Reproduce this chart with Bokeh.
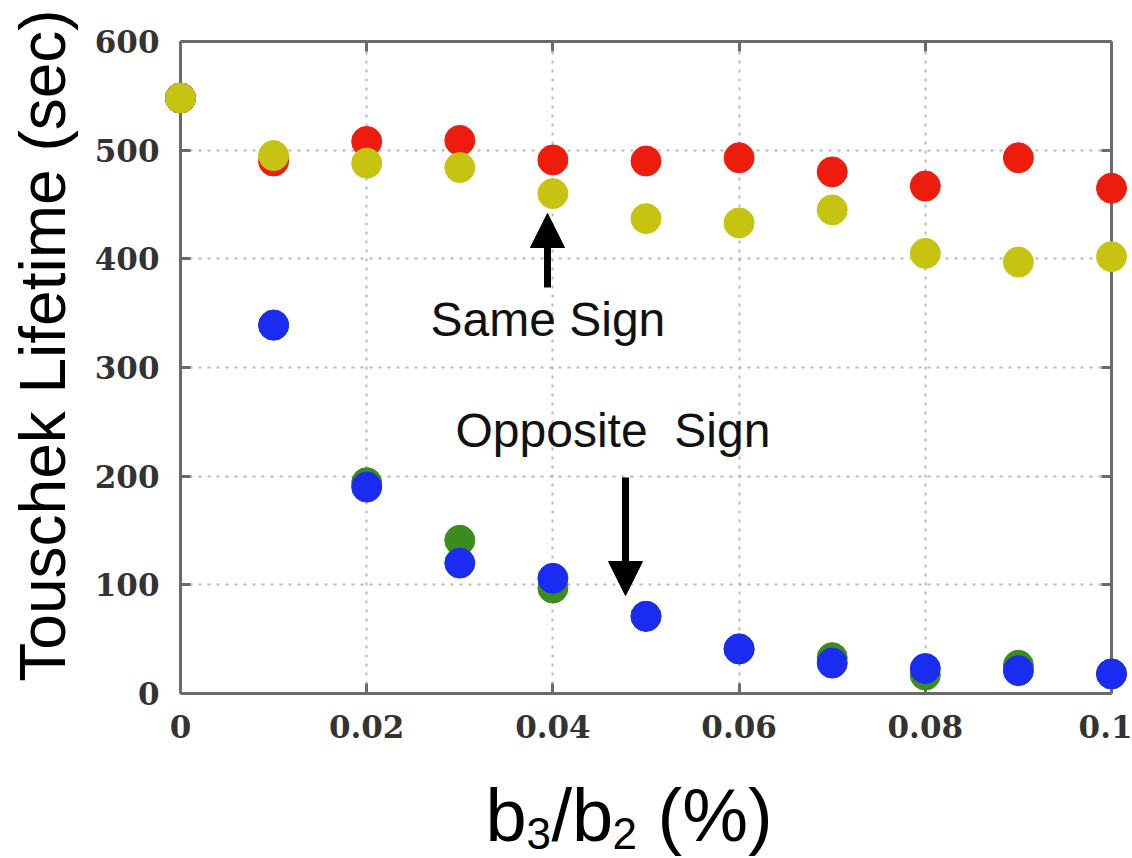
import math
from bokeh.plotting import figure
from bokeh.models import (Arrow, NormalHead, LinearAxis, Range1d, FixedTicker)
from bokeh.core.properties import value
from bokeh.embed import file_html
from bokeh.resources import INLINE

# ---- data ----
b3_b2 = [0.0, 0.01, 0.02, 0.03, 0.04, 0.05, 0.06, 0.07, 0.08, 0.09, 0.1]
same_red = [548, 490, 508, 509, 491, 490, 493, 480, 467, 493, 465]
same_yellow = [548, 495, 488, 484, 460, 437, 433, 445, 405, 397, 402]
opp_green = [548, 339, 194, 141, 97, 71, 41, 33, 17, 26, 18]
opp_blue = [548, 339, 190, 120, 106, 71, 41, 28, 23, 21, 18]

x_ticks = [0, 0.02, 0.04, 0.06, 0.08, 0.1]
x_tick_labels = ["0", "0.02", "0.04", "0.06", "0.08", "0.1"]
y_ticks = [0, 100, 200, 300, 400, 500, 600]
y_tick_labels = ["0", "100", "200", "300", "400", "500", "600"]

W, H = 1132, 858
FL, FR, FT, FB = 180, 1111, 41, 693  # frame edges in figure px
XMIN, XMAX, YMIN, YMAX = 0.0, 0.1, 0.0, 600.0

def dx(px):
    return XMIN + (px - FL) * (XMAX - XMIN) / (FR - FL)

def dy(py):
    return YMIN + (FB - py) * (YMAX - YMIN) / (FB - FT)

p = figure(width=W, height=H, output_backend="svg", toolbar_location=None,
           x_range=Range1d(XMIN, XMAX), y_range=Range1d(YMIN, YMAX),
           min_border_left=FL, min_border_right=W - FR,
           min_border_top=FT, min_border_bottom=H - FB)
p.outline_line_color = None
p.background_fill_color = "white"
p.border_fill_color = "white"

tick_font = "DejaVu Serif"
axis_col = "#6a6a6a"

def style_axis(ax, ticks, labels, show_labels):
    ax.ticker = FixedTicker(ticks=ticks)
    ax.axis_line_color = axis_col
    ax.axis_line_width = 3
    ax.major_tick_line_color = axis_col
    ax.major_tick_line_width = 3
    ax.major_tick_in = 10
    ax.major_tick_out = 0
    ax.minor_tick_line_color = None
    if show_labels:
        ax.major_label_overrides = {t: l for t, l in zip(ticks, labels)}
        ax.major_label_text_font = tick_font
        ax.major_label_text_font_style = "bold"
        ax.major_label_text_font_size = "31px"
        ax.major_label_text_color = "#333333"
    else:
        ax.major_label_overrides = {t: "" for t in ticks}
        ax.major_label_text_font_size = "1px"
        ax.major_label_standoff = 0

style_axis(p.xaxis[0], x_ticks, x_tick_labels, True)
p.xaxis[0].major_label_standoff = 21
style_axis(p.yaxis[0], y_ticks, y_tick_labels, True)
p.yaxis[0].major_label_standoff = 21

top = LinearAxis()
style_axis(top, x_ticks, x_tick_labels, False)
p.add_layout(top, "above")
right = LinearAxis()
style_axis(right, y_ticks, y_tick_labels, False)
p.add_layout(right, "right")

for g in (p.xgrid[0], p.ygrid[0]):
    g.grid_line_color = "#b8b8b8"
    g.grid_line_width = 2
    g.grid_line_dash = "3 6"
p.xgrid[0].ticker = FixedTicker(ticks=x_ticks)
p.ygrid[0].ticker = FixedTicker(ticks=y_ticks)

msize = 30
r1 = p.scatter(b3_b2, opp_green, size=msize, fill_color="#3b8c1c", line_color="#3b8c1c")
r2 = p.scatter(b3_b2, opp_blue, size=msize, fill_color="#1a2cf2", line_color="#1a2cf2")
r3 = p.scatter(b3_b2, same_red, size=msize, fill_color="#ee1c0c", line_color="#ee1c0c")
r4 = p.scatter(b3_b2, same_yellow, size=msize, fill_color="#c6c410", line_color="#c6c410")
for r in (r1, r2, r3, r4):
    r.level = "overlay"

sans = value("Liberation Sans")
SHIFT = 0.375  # baseline correction (em) observed for text glyphs

def put_text(px, py, txt, size, angle=0.0, align="left", color="#111111", xoff=0):
    if angle:
        px = px - SHIFT * size
    else:
        py = py - SHIFT * size
    r = p.text(x=[dx(px)], y=[dy(py)], text=[txt], text_font=sans,
               text_font_size=f"{size}px", text_color=color, angle=angle,
               text_align=align, text_baseline="alphabetic", x_offset=xoff)
    r.level = "overlay"
    return r

# annotations
put_text(430, 337, "Same Sign", 48)
put_text(455, 448, "Opposite\u00a0\u00a0Sign", 48)
p.add_layout(Arrow(x_start=dx(547), y_start=dy(287), x_end=dx(547), y_end=dy(213),
                   line_width=7, line_color="black",
                   end=NormalHead(size=34, fill_color="black", line_color="black")))
p.add_layout(Arrow(x_start=dx(625), y_start=dy(477), x_end=dx(625), y_end=dy(595),
                   line_width=7, line_color="black",
                   end=NormalHead(size=34, fill_color="black", line_color="black")))

# y axis title
put_text(66, 345, "Touschek Lifetime (sec)", 64, angle=math.pi / 2,
         align="center", color="black")

# x axis title  b3/b2 (%) with subscripts
pieces = [("b", 0, 74, 843), ("3", 41, 44, 849), ("/b", 66, 74, 843),
          ("2", 127, 44, 849), ("(%)", 172, 74, 843)]
for txt, off, fs, by in pieces:
    put_text(485, by, txt, fs, color="black", xoff=off)

open("out.html", "w").write(file_html(p, INLINE))
